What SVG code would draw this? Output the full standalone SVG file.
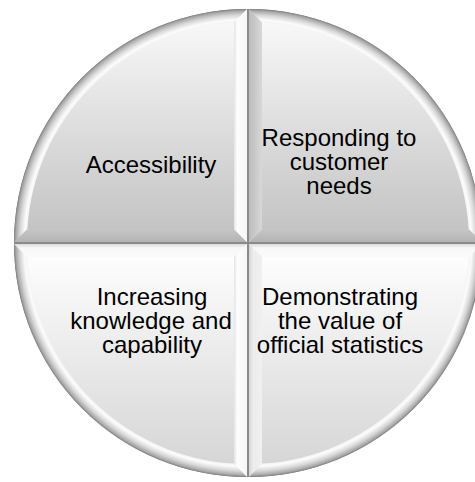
<svg xmlns="http://www.w3.org/2000/svg" width="475" height="482" viewBox="0 0 475 482">
  <style>
    .lbl { font-family: "Liberation Sans", Arial, sans-serif; font-size: 24px; fill: #000; text-anchor: middle; }
  </style>
  <defs>
    <!-- rounded rim shading for each quarter, centred on its own corner -->
    <radialGradient id="rimTL" gradientUnits="userSpaceOnUse" cx="247" cy="242" r="233">
      <stop offset="0" stop-color="#f4f4f4"/>
      <stop offset="0.94" stop-color="#f2f2f2"/>
      <stop offset="0.955" stop-color="#fbfbfb"/>
      <stop offset="0.975" stop-color="#d6d6d6"/>
      <stop offset="0.992" stop-color="#a8a8a8"/>
      <stop offset="1" stop-color="#7e7e7e"/>
    </radialGradient>
    <radialGradient id="rimTR" href="#rimTL" cx="249" cy="242"/>
    <radialGradient id="rimBL" href="#rimTL" cx="247" cy="244"/>
    <radialGradient id="rimBR" href="#rimTL" cx="249" cy="244"/>

    <!-- flat faces -->
    <linearGradient id="faceTop" gradientUnits="userSpaceOnUse" x1="0" y1="22" x2="0" y2="229">
      <stop offset="0" stop-color="#f8f8f8"/>
      <stop offset="1" stop-color="#c4c4c4"/>
    </linearGradient>
    <linearGradient id="faceBot" gradientUnits="userSpaceOnUse" x1="0" y1="257" x2="0" y2="464">
      <stop offset="0" stop-color="#fdfdfd"/>
      <stop offset="1" stop-color="#d6d6d6"/>
    </linearGradient>

    <!-- straight bevel facets -->
    <linearGradient id="facetWhiteV" x1="0" y1="0" x2="1" y2="0">
      <stop offset="0" stop-color="#e4e4e4"/>
      <stop offset="0.25" stop-color="#fdfdfd"/>
      <stop offset="1" stop-color="#f6f6f6"/>
    </linearGradient>
    <linearGradient id="facetGrayV" x1="0" y1="0" x2="1" y2="0">
      <stop offset="0" stop-color="#bcbcbc"/>
      <stop offset="1" stop-color="#d8d8d8"/>
    </linearGradient>
    <linearGradient id="facetGrayH" x1="0" y1="0" x2="0" y2="1">
      <stop offset="0" stop-color="#c6c6c6"/>
      <stop offset="1" stop-color="#b4b4b4"/>
    </linearGradient>
    <linearGradient id="facetWhiteH" x1="0" y1="0" x2="0" y2="1">
      <stop offset="0" stop-color="#dadada"/>
      <stop offset="0.3" stop-color="#f8f8f8"/>
      <stop offset="1" stop-color="#fafafa"/>
    </linearGradient>
    <linearGradient id="facetLightV" x1="0" y1="0" x2="1" y2="0">
      <stop offset="0" stop-color="#d4d4d4"/>
      <stop offset="0.3" stop-color="#ececec"/>
      <stop offset="1" stop-color="#f0f0f0"/>
    </linearGradient>
  </defs>

  <!-- dark backing that shows through as the dividing lines -->
  <circle cx="248" cy="243" r="234" fill="#8a8a8a"/>

  <g id="accessibility">
    <path d="M247,242 H14 A233,233 0 0 1 247,9 Z" fill="url(#rimTL)"/>
    <path d="M14,242 H247 L234,229 H27.4 Z" fill="url(#facetGrayH)"/>
    <path d="M247,242 V9 L234,22.4 V229 Z" fill="url(#facetWhiteV)"/>
    <path d="M234,229 H27.4 A220,220 0 0 1 234,22.4 Z" fill="url(#faceTop)"/>
    <text class="lbl" x="151" y="173">Accessibility</text>
  </g>

  <g id="customer-needs">
    <path d="M249,242 V9 A233,233 0 0 1 482,242 Z" fill="url(#rimTR)"/>
    <path d="M249,242 V9 L262,22.4 V229 Z" fill="url(#facetGrayV)"/>
    <path d="M249,242 H482 L468.6,229 H262 Z" fill="url(#facetGrayH)"/>
    <path d="M262,229 V22.4 A220,220 0 0 1 468.6,229 Z" fill="url(#faceTop)"/>
    <text class="lbl" x="339" y="146">Responding to</text>
    <text class="lbl" x="339" y="170">customer</text>
    <text class="lbl" x="339" y="194">needs</text>
  </g>

  <g id="knowledge">
    <path d="M247,244 V477 A233,233 0 0 1 14,244 Z" fill="url(#rimBL)"/>
    <path d="M247,244 H14 L27.4,257 H234 Z" fill="url(#facetWhiteH)"/>
    <path d="M247,244 V477 L234,463.6 V257 Z" fill="url(#facetWhiteV)"/>
    <path d="M234,257 V463.6 A220,220 0 0 1 27.4,257 Z" fill="url(#faceBot)"/>
    <text class="lbl" x="152" y="305">Increasing</text>
    <text class="lbl" x="151" y="329">knowledge and</text>
    <text class="lbl" x="152" y="353">capability</text>
  </g>

  <g id="official-statistics">
    <path d="M249,244 H482 A233,233 0 0 1 249,477 Z" fill="url(#rimBR)"/>
    <path d="M249,244 H482 L468.6,257 H262 Z" fill="url(#facetWhiteH)"/>
    <path d="M249,244 V477 L262,463.6 V257 Z" fill="url(#facetLightV)"/>
    <path d="M262,257 H468.6 A220,220 0 0 1 262,463.6 Z" fill="url(#faceBot)"/>
    <text class="lbl" x="340" y="305">Demonstrating</text>
    <text class="lbl" x="340" y="329">the value of</text>
    <text class="lbl" x="340" y="353">official statistics</text>
  </g>
</svg>
